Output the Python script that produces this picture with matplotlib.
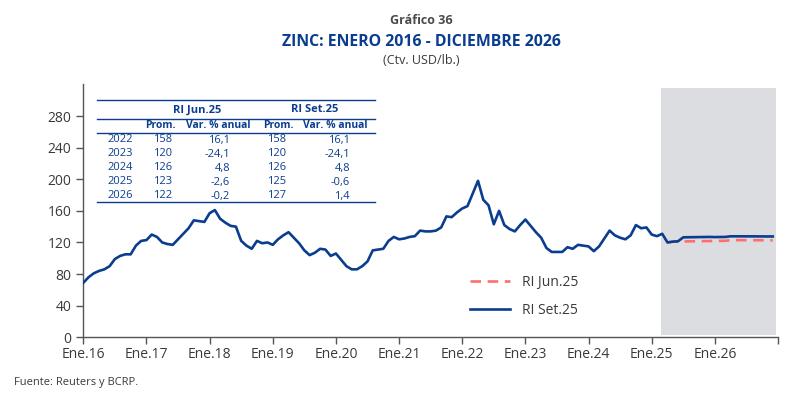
import numpy as np
import matplotlib
matplotlib.use("Agg")
import matplotlib.pyplot as plt

plt.rcParams["font.family"] = ["Open Sans", "DejaVu Sans"]

# ---- datos (Ctv. USD/lb.), mensual Ene.16 - Dic.26 ----
hist_2016 = [69, 76, 81, 84, 86, 90, 99, 103, 105, 105, 116, 122]
hist_2017 = [123, 130, 127, 120, 118, 117, 124, 131, 138, 148, 147, 146]
hist_2018 = [157, 161, 150, 145, 141, 140, 122, 116, 112, 122, 119, 120]
hist_2019 = [117, 124, 129, 133, 126, 119, 110, 104, 107, 112, 111, 103]
hist_2020 = [106, 98, 90, 86, 86, 90, 96, 110, 111, 112, 122, 127]
hist_2021 = [124, 125, 127, 128, 135, 134, 134, 135, 139, 153, 152, 158]
hist_2022 = [163, 166, 182, 198, 174, 167, 143, 160, 142, 137, 134, 142]
hist_2023 = [149, 141, 133, 126, 113, 108, 108, 108, 114, 112, 117, 116]
hist_2024 = [115, 109, 115, 125, 135, 129, 126, 124, 129, 142, 138, 139]
hist_2025 = [130, 128, 131, 120]  # Ene-Abr

set25_2025 = [121, 121.5, 126.5, 126.6, 126.7, 126.8, 126.9, 127.0]  # May-Dic
set25_2026 = [126.8, 126.9, 127.0, 127.8, 127.8, 127.8, 127.7, 127.7, 127.7, 127.6, 127.6, 127.6]
jun25_2025 = [121, 121.2, 121.3, 121.4, 121.5, 121.6, 121.7, 121.8]
jun25_2026 = [121.9, 122.0, 122.1, 123.0, 123.0, 122.9, 122.9, 122.8, 122.8, 122.8, 122.7, 122.7]

year_labels = ["Ene.16", "Ene.17", "Ene.18", "Ene.19", "Ene.20", "Ene.21",
               "Ene.22", "Ene.23", "Ene.24", "Ene.25", "Ene.26", ""]

# tabla
tab_years = ["2022", "2023", "2024", "2025", "2026"]
tab_jun_prom = ["158", "120", "126", "123", "122"]
tab_jun_var = ["16,1", "-24,1", "4,8", "-2,6", "-0,2"]
tab_set_prom = ["158", "120", "126", "125", "127"]
tab_set_var = ["16,1", "-24,1", "4,8", "-0,6", "1,4"]

BLUE = "#0a3d8f"
RED = "#ff6e6e"
GREY_TXT = "#3a3a3a"

hist = (hist_2016 + hist_2017 + hist_2018 + hist_2019 + hist_2020 + hist_2021
        + hist_2022 + hist_2023 + hist_2024 + hist_2025)
set25 = np.array(hist + set25_2025 + set25_2026, dtype=float)
n_hist = len(hist)
jun25 = np.array([hist[-1]] + jun25_2025 + jun25_2026, dtype=float)
x_all = np.arange(len(set25))
x_jun = np.arange(n_hist - 1, n_hist - 1 + len(jun25))

W, H = 800, 399
fig = plt.figure(figsize=(W / 100, H / 100), dpi=100)
ax = fig.add_axes([83.3 / W, 1 - 337.3 / H, (778 - 83.3) / W, (337.3 - 84.4) / H])

ax.axvspan(109.8, 131.6, ymin=3 / 320, ymax=315 / 320, color="#dcdde0", lw=0, zorder=0)
ax.plot(x_jun, jun25, color=RED, lw=1.9, ls=(0, (4, 2.5)), label="RI Jun.25", zorder=2)
ax.plot(x_all, set25, color=BLUE, lw=1.9, label="RI Set.25", zorder=3)

ax.set_xlim(0, 132)
ax.set_ylim(0, 320)
ax.set_yticks(np.arange(0, 281, 40))
ax.set_xticks(np.arange(0, 133, 12))
ax.set_xticklabels(year_labels)
for s in ["top", "right"]:
    ax.spines[s].set_visible(False)
for s in ["left", "bottom"]:
    ax.spines[s].set_color("#555555")
    ax.spines[s].set_linewidth(1.0)
ax.tick_params(axis="both", direction="out", length=5, width=1, color="#555555",
               labelsize=10, labelcolor=GREY_TXT)
ax.tick_params(axis="x", pad=2)

ax.legend(loc="center left", bbox_to_anchor=(0.5566, 0.161), frameon=False,
          borderpad=0, borderaxespad=0, handlelength=2.9, labelspacing=0.95,
          fontsize=10, labelcolor=GREY_TXT, handletextpad=0.86)

# titulos
cx = 421 / W
fig.text(cx, 1 - 20 / H, "Gráfico 36", ha="center", va="center", fontsize=9,
         fontweight="bold", color="#4a4a4a")
fig.text(cx, 1 - 42 / H, "ZINC: ENERO 2016 - DICIEMBRE 2026", ha="center", va="center",
         fontsize=11.4, fontweight="bold", color=BLUE)
fig.text(cx, 1 - 60 / H, "(Ctv. USD/lb.)", ha="center", va="center", fontsize=9,
         color=GREY_TXT)
fig.text(14 / W, 1 - 382 / H, "Fuente: Reuters y BCRP.", ha="left", va="center",
         fontsize=8, color=GREY_TXT)


# tabla (coordenadas en pixeles de la figura)
def ft(x, y, s, size=8, **kw):
    fig.text(x / W, 1 - y / H, s, va="center", fontsize=size, color=BLUE, **kw)


def hline(y):
    fig.add_artist(plt.Line2D([97 / W, 375 / W], [1 - y / H, 1 - y / H],
                              color=BLUE, lw=1.0, transform=fig.transFigure))


for y in [100, 119, 132.5, 201.5]:
    hline(y)
ft(197, 110, "RI Jun.25", ha="center", fontweight="bold")
ft(315, 110, "RI Set.25", ha="center", fontweight="bold")
ft(160, 125.5, "Prom.", size=7.5, ha="center", fontweight="bold")
ft(218, 125.5, "Var. % anual", size=7.5, ha="center", fontweight="bold")
ft(278, 125.5, "Prom.", size=7.5, ha="center", fontweight="bold")
ft(335, 125.5, "Var. % anual", size=7.5, ha="center", fontweight="bold")
for i, yr in enumerate(tab_years):
    yy = 140 + i * 14
    ft(120, yy, yr, ha="center")
    ft(163, yy, tab_jun_prom[i], ha="center")
    ft(230, yy, tab_jun_var[i], ha="right")
    ft(277, yy, tab_set_prom[i], ha="center")
    ft(350, yy, tab_set_var[i], ha="right")

fig.savefig("out.png", dpi=100)
